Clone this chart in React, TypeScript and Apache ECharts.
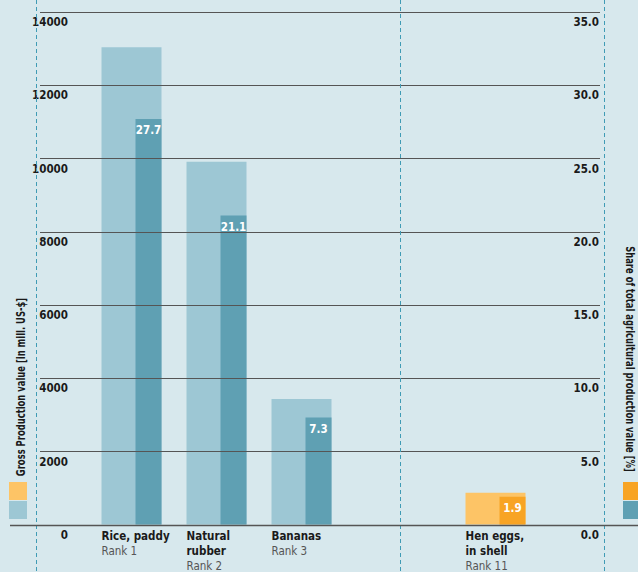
import React, { useEffect, useRef } from "react";
import * as echarts from "echarts";

// ---- data ----
const mainCategories = ["Rice, paddy", "Natural\nrubber", "Bananas"];
const mainRanks = ["Rank 1", "Rank 2", "Rank 3"];
const mainValues = [13040, 9910, 3430]; // gross production value, mill. US-$
const mainShares = [27.7, 21.1, 7.3]; // share of total agricultural production value, %

const otherCategories = ["Hen eggs,\nin shell"];
const otherRanks = ["Rank 11"];
const otherValues = [870];
const otherShares = [1.9];

const valueTicks = { min: 0, max: 14000, interval: 2000 };
const shareTicks = { min: 0, max: 35, interval: 5 };

const leftTitle = "Gross Production value [in mill. US-$]";
const rightTitle = "Share of total agricultural production value [%]";

// ---- styles ----
const FONT = "'DejaVu Sans Condensed', 'Liberation Sans Narrow', sans-serif";
const BG = "#d7e8ed";
const LIGHT_BLUE = "#9dc7d4";
const DARK_TEAL = "#5fa0b3";
const LIGHT_ORANGE = "#fdc466";
const DARK_ORANGE = "#f8a424";
const GRID_LINE = "#555555";
const DASH = "#3f9bb5";

const W = 638;
const H = 572;
const TOP = 12;
const BOTTOM = 47;

function catLabel(names: string[], ranks: string[]) {
  return (v: string, i: number) => {
    const lines = names[i].split("\n").map((l) => `{n|${l}}`).join("\n");
    return `${lines}\n{r|${ranks[i]}}`;
  };
}

const catAxisLabel = (names: string[], ranks: string[]) => ({
  show: true,
  interval: 0,
  margin: 4,
  align: "center",
  width: 60,
  overflow: "none",
  formatter: catLabel(names, ranks),
  rich: {
    n: {
      fontFamily: FONT,
      fontSize: 11.5,
      fontWeight: "bold",
      color: "#1a1a1a",
      lineHeight: 15,
      align: "left",
    },
    r: {
      fontFamily: FONT,
      fontSize: 11.5,
      color: "#555555",
      lineHeight: 15,
      align: "left",
    },
  },
});

const hiddenY = (min: number, max: number, gridIndex: number) => ({
  type: "value",
  gridIndex,
  min,
  max,
  show: false,
  splitLine: { show: false },
});

export default function App() {
  const ref = useRef<HTMLDivElement>(null);

  useEffect(() => {
    if (!ref.current) return;
    const chart = echarts.init(ref.current, undefined, { renderer: "svg" });

    const barLabel = {
      show: true,
      position: "insideTop",
      distance: 5,
      color: "#ffffff",
      fontFamily: FONT,
      fontSize: 11.5,
      fontWeight: "bold",
      formatter: (p: any) => Number(p.value).toFixed(1),
    };

    const tickLabel = {
      inside: true,
      align: "right",
      verticalAlign: "top",
      padding: [4, 0, 0, 0],
      fontFamily: FONT,
      fontSize: 11.5,
      fontWeight: "bold",
      color: "#1a1a1a",
    };

    const option: any = {
      animation: false,
      backgroundColor: BG,
      grid: [
        { left: 40, right: W - 600, top: TOP, bottom: BOTTOM },
        { left: 89, width: 255, top: TOP, bottom: BOTTOM },
        { left: 445, width: 101, top: TOP, bottom: BOTTOM },
      ],
      xAxis: [
        { type: "value", gridIndex: 0, min: 0, max: 1, show: false },
        {
          type: "category",
          gridIndex: 1,
          data: mainCategories,
          axisLine: { show: false },
          axisTick: { show: false },
          axisLabel: catAxisLabel(mainCategories, mainRanks),
        },
        {
          type: "category",
          gridIndex: 2,
          data: otherCategories,
          axisLine: { show: false },
          axisTick: { show: false },
          axisLabel: catAxisLabel(otherCategories, otherRanks),
        },
      ],
      yAxis: [
        {
          type: "value",
          gridIndex: 0,
          position: "left",
          ...valueTicks,
          z: 5,
          axisLine: { show: false },
          axisTick: { show: false },
          splitLine: { show: true, lineStyle: { color: GRID_LINE, width: 1 } },
          axisLabel: { ...tickLabel, margin: 28, formatter: (v: number) => String(v) },
        },
        {
          type: "value",
          gridIndex: 0,
          position: "right",
          ...shareTicks,
          z: 5,
          axisLine: { show: false },
          axisTick: { show: false },
          splitLine: { show: false },
          axisLabel: { ...tickLabel, margin: 1, formatter: (v: number) => v.toFixed(1) },
        },
        hiddenY(valueTicks.min, valueTicks.max, 1),
        hiddenY(shareTicks.min, shareTicks.max, 1),
        hiddenY(valueTicks.min, valueTicks.max, 2),
        hiddenY(shareTicks.min, shareTicks.max, 2),
      ],
      series: [
        {
          type: "bar",
          xAxisIndex: 1,
          yAxisIndex: 2,
          data: mainValues,
          barWidth: 60,
          barGap: "-43.33%",
          itemStyle: { color: LIGHT_BLUE },
        },
        {
          type: "bar",
          xAxisIndex: 1,
          yAxisIndex: 3,
          data: mainShares,
          barWidth: 26,
          barGap: "-43.33%",
          itemStyle: { color: DARK_TEAL },
          label: barLabel,
        },
        {
          type: "bar",
          xAxisIndex: 2,
          yAxisIndex: 4,
          data: otherValues,
          barWidth: 60,
          barGap: "-43.33%",
          itemStyle: { color: LIGHT_ORANGE },
        },
        {
          type: "bar",
          xAxisIndex: 2,
          yAxisIndex: 5,
          data: otherShares,
          barWidth: 26,
          barGap: "-43.33%",
          itemStyle: { color: DARK_ORANGE },
          label: barLabel,
        },
      ],
      graphic: [
        // dashed dividers
        ...[36, 400, 604].map((x) => ({
          type: "line",
          z: 10,
          silent: true,
          shape: { x1: x + 0.5, y1: 0, x2: x + 0.5, y2: H },
          style: { stroke: DASH, lineWidth: 1, lineDash: [4, 3] },
        })),
        // baseline
        {
          type: "line",
          z: 10,
          silent: true,
          shape: { x1: 10, y1: H - BOTTOM + 0.5, x2: W, y2: H - BOTTOM + 0.5 },
          style: { stroke: "#555555", lineWidth: 1.5 },
        },
        // legend swatches left
        { type: "rect", z: 10, shape: { x: 9, y: 482, width: 18, height: 18 }, style: { fill: LIGHT_ORANGE } },
        { type: "rect", z: 10, shape: { x: 9, y: 501, width: 18, height: 18 }, style: { fill: LIGHT_BLUE } },
        // legend swatches right
        { type: "rect", z: 10, shape: { x: 623, y: 482, width: 18, height: 18 }, style: { fill: DARK_ORANGE } },
        { type: "rect", z: 10, shape: { x: 623, y: 501, width: 18, height: 18 }, style: { fill: DARK_TEAL } },
        // axis titles
        {
          type: "text",
          z: 10,
          x: 21,
          y: 387,
          rotation: Math.PI / 2,
          scaleX: 0.78,
          style: {
            text: leftTitle,
            align: "center",
            verticalAlign: "middle",
            fontFamily: FONT,
            fontSize: 12,
            fontWeight: "bold",
            fill: "#1a1a1a",
          },
        },
        {
          type: "text",
          z: 10,
          x: 630,
          y: 359,
          rotation: -Math.PI / 2,
          scaleX: 0.78,
          style: {
            text: rightTitle,
            align: "center",
            verticalAlign: "middle",
            fontFamily: FONT,
            fontSize: 12,
            fontWeight: "bold",
            fill: "#1a1a1a",
          },
        },
      ],
    };

    chart.setOption(option);
    return () => chart.dispose();
  }, []);

  return (
    <div
      ref={ref}
      style={{ position: "absolute", left: 0, top: 0, width: W, height: H }}
    />
  );
}
